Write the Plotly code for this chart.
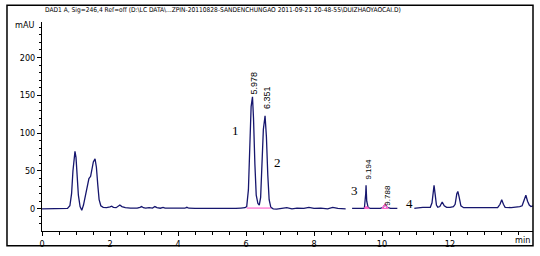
import plotly.graph_objects as go

# ---- data (time in min, signal in mAU) ----
time_min = [0, 0.5, 0.75, 0.82, 0.87, 0.91, 0.94, 0.97, 1.0, 1.03, 1.07, 1.12, 1.17, 1.22, 1.28, 1.33,
            1.38, 1.43, 1.47, 1.51, 1.56, 1.6, 1.64, 1.68, 1.73, 1.8, 1.9,
            1.95, 2.0, 2.05, 2.1, 2.18, 2.24, 2.29, 2.35, 2.45, 2.6, 2.8, 2.88, 2.93, 2.98, 3.05, 3.15,
            3.25, 3.32, 3.38, 3.48, 3.56, 3.62, 3.75, 4.0, 4.2, 4.26, 4.32, 4.5, 4.8, 5.0, 5.2, 5.5,
            5.7, 5.85,
            5.9, 5.97, 6.02, 6.07, 6.11, 6.15, 6.19, 6.22, 6.26, 6.3, 6.35, 6.39, 6.43, 6.47, 6.51, 6.56,
            6.6, 6.64, 6.68, 6.73, 6.8, 6.9,
            7.0, 7.2, 7.35, 7.5, 7.7, 7.85, 8.0, 8.2, 8.4, 8.55, 8.7, 8.85, 8.93, None, 9.12, 9.3, 9.42,
            9.48, 9.52, 9.53, 9.55, 9.59, 9.65,
            9.8, 9.95, 10.03, 10.09, 10.15, 10.25, 10.45, None, 10.95,
            11.0, 11.2, 11.35, 11.42, 11.47, 11.51, 11.53, 11.56, 11.6, 11.64,
            11.7, 11.77, 11.83, 11.9, 12.0, 12.1,
            12.15, 12.2, 12.23, 12.27, 12.32, 12.4, 12.8, 13.2, 13.35,
            13.4, 13.47, 13.52, 13.57, 13.62, 13.8, 13.95, 14.05,
            14.12, 14.18, 14.23, 14.28, 14.33, 14.38, 14.44]
signal_mau = [0, 0, 0.5, 4, 20, 50, 70, 76, 68, 45, 18, 3, -2, 5, 20, 33,
              40, 43, 52, 62, 66, 55, 32, 12, 4, 2, 1.5,
              1.5, 2.5, 3.5, 2, 1.5, 3.5, 5, 3, 1.5, 1, 0.8, 2, 3, 1.5, 1, 1.5,
              1, 3, 1.5, 0.8, 2, 1, 0.8, 0.5, 0.8, 2, 0.8, 0.5, 0.3, 0.5, 0.3, 0.3,
              0.5, 1,
              1, 1.5, 3, 25, 80, 135, 148, 120, 60, 18, 7, 5, 15, 60, 105, 123,
              95, 45, 12, 2, 0, -0.5,
              0.5, 1.5, 0, 1, 0.5, 2, 0.5, 1, 0, 2, 0.5, 0.5, 0, None, 0.5, 0.5, 0.5,
              0.5, 20, 31, 10, 2, 0.5,
              0.5, 0.5, 2, 6, 2, 0.5, 0.5, None, 0.5,
              1, 2, 2, 2, 8, 28, 31, 20, 5, 2,
              3, 9, 4, 2, 2, 3,
              6, 20, 23, 15, 4, 1.5, 1.5, 1.5, 1.5,
              1.5, 6, 12, 6, 2, 1.5, 2, 3,
              4, 12, 18, 10, 5, 3, 4]

# integration baseline marks (pink)
integ_time = [6.02, 6.73, None, 9.48, 9.53, 9.62, 9.48, None, 10.0, 10.09, 10.18, 10.0]
integ_mau = [1, 1, None, 0.5, 3, 0.5, 0.5, None, 0.5, 6, 0.5, 0.5]

# peak retention-time labels (text, position in data units)
rt_labels = ["5.978", "6.351", "9.194", "9.788"]
rt_x = [6.24, 6.62, 9.59, 10.15]
rt_y = [166, 146.6, 52, 17.6]
rt_size = [9, 9, 8, 8]

peak_numbers = ["1", "2", "3", "4"]
num_x = [5.68, 6.94, 9.18, 10.82]
num_y = [103, 60.6, 24, 7]

header = "DAD1 A, Sig=246,4 Ref=off (D:\\LC DATA\\...ZPIN-20110828-SANDENCHUNGAO 2011-09-21 20-48-55\\DUIZHAOYAOCAI.D)"

x_ticks = [0, 2, 4, 6, 8, 10, 12]
y_ticks = [0, 50, 100, 150, 200]

tick_font = dict(family="Liberation Sans Narrow, Arial Narrow, DejaVu Sans Condensed, sans-serif", size=9, color="black")

fig = go.Figure()
fig.add_trace(go.Scatter(x=time_min, y=signal_mau, mode="lines", connectgaps=False,
                         line=dict(color="#16166e", width=1.3), hoverinfo="skip"))
fig.add_trace(go.Scatter(x=integ_time, y=integ_mau, mode="lines",
                         line=dict(color="#ff66cc", width=1.2), hoverinfo="skip"))

annotations = []
for t, x, y, s in zip(rt_labels, rt_x, rt_y, rt_size):
    annotations.append(dict(x=x, y=y, xref="x", yref="y", text=t, showarrow=False, textangle=-90,
                            font=dict(family="Liberation Sans, Arial, sans-serif", size=s, color="black")))
for t, x, y in zip(peak_numbers, num_x, num_y):
    annotations.append(dict(x=x, y=y, xref="x", yref="y", text=t, showarrow=False,
                            font=dict(family="Liberation Serif, Times New Roman, serif", size=13, color="black")))
annotations.append(dict(x=0.002, y=1.0566, xref="paper", yref="paper", text=header, showarrow=False,
                        xanchor="left", yanchor="middle",
                        font=dict(family="Liberation Sans Narrow, Arial Narrow, DejaVu Sans Condensed, sans-serif", size=6.6, color="black")))
annotations.append(dict(x=-0.012, y=0.986, xref="paper", yref="paper", text="mAU", showarrow=False,
                        xanchor="right", yanchor="middle", font=tick_font))
annotations.append(dict(x=0.998, y=-0.042, xref="paper", yref="paper", text="min", showarrow=False,
                        xanchor="right", yanchor="middle", font=tick_font))

fig.update_layout(
    width=540, height=256,
    margin=dict(l=42, r=7, t=22, b=22),
    paper_bgcolor="white", plot_bgcolor="white",
    showlegend=False,
    annotations=annotations,
    shapes=[dict(type="rect", xref="paper", yref="paper", x0=-0.0713, x1=1.0, y0=-0.0708, y1=1.080,
                 line=dict(color="black", width=1.5), fillcolor="rgba(0,0,0,0)")],
    xaxis=dict(range=[0, 14.44], tickvals=x_ticks, ticks="outside", ticklen=4, tickcolor="black",
               showline=True, linecolor="black", linewidth=1, showgrid=False, zeroline=False,
               tickfont=tick_font, minor=dict(dtick=0.5, ticks="outside", ticklen=3, tickcolor="black", showgrid=False)),
    yaxis=dict(range=[-29.3, 246.9], tickvals=y_ticks, ticks="outside", ticklen=4, tickcolor="black",
               showline=True, linecolor="black", linewidth=1, showgrid=False, zeroline=False,
               tickfont=tick_font, minor=dict(dtick=10, ticks="outside", ticklen=2, tickcolor="black", showgrid=False)),
)

fig.write_html("out.html")
